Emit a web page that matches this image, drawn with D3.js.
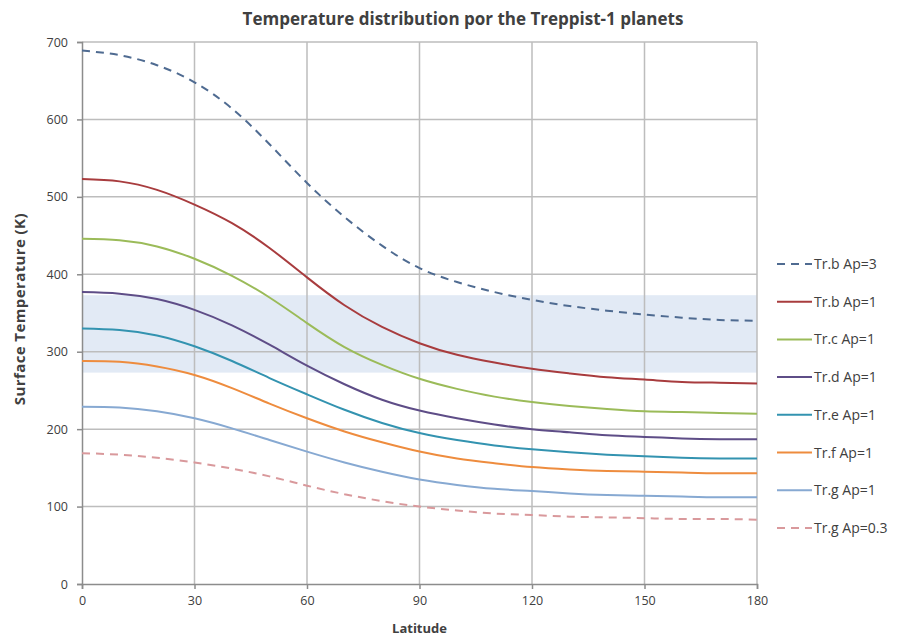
<!DOCTYPE html>
<html>
<head>
<meta charset="utf-8">
<script src="https://cdn.jsdelivr.net/npm/d3@7"></script>
<style>
  body { margin: 0; background: #fff; }
  text { font-family: "Open Sans", "Liberation Sans", sans-serif; fill: #404040; }
</style>
</head>
<body>
<div id="chart"></div>
<script>
// latitude steps (deg)
var latitudes = [0, 10, 20, 30, 40, 50, 60, 70, 80, 90, 100, 110, 120, 130, 140, 150, 160, 170, 180];

// surface temperature (K) per planet
var trB3  = [689, 683, 670, 648, 614, 568, 518, 474, 437, 408, 390, 377, 367, 359, 353, 348, 344, 341, 340];
var trB1  = [523, 520, 509, 490, 466, 434, 396, 360, 332, 311, 296, 286, 278, 272, 267, 264, 261, 260, 259];
var trC1  = [446, 444, 436, 420, 398, 370, 337, 306, 283, 265, 252, 242, 235, 230, 226, 223, 222, 221, 220];
var trD1  = [377, 375, 368, 354, 334, 309, 282, 258, 238, 224, 214, 206, 200, 196, 192, 190, 188, 187, 187];
var trE1  = [330, 328, 321, 307, 288, 266, 245, 225, 208, 195, 186, 179, 174, 170, 167, 165, 163, 162, 162];
var trF1  = [288, 287, 281, 270, 253, 233, 214, 197, 183, 171, 162, 156, 151, 148, 146, 145, 144, 143, 143];
var trG1  = [229, 228, 223, 214, 201, 186, 171, 157, 145, 135, 128, 123, 120, 117, 115, 114, 113, 112, 112];
var trG03 = [169, 167, 163, 157, 149, 139, 127, 116, 107, 100, 95, 91, 89, 87, 86, 85, 84, 84, 83];

var seriesNames = ["Tr.b Ap=3", "Tr.b Ap=1", "Tr.c Ap=1", "Tr.d Ap=1", "Tr.e Ap=1", "Tr.f Ap=1", "Tr.g Ap=1", "Tr.g Ap=0.3"];
var seriesValues = [trB3, trB1, trC1, trD1, trE1, trF1, trG1, trG03];
var seriesColors = ["#4f6b91", "#a83c3e", "#9bbb59", "#5e4d87", "#3393b0", "#ee8c3e", "#87a9d2", "#d9999c"];
var seriesDashed = [true, false, false, false, false, false, false, true];

// liquid water band (K)
var waterBand = [273, 373];

var xTicks = [0, 30, 60, 90, 120, 150, 180];
var yTicks = [0, 100, 200, 300, 400, 500, 600, 700];

var W = 903, H = 641;
var margin = {top: 42, right: 146, bottom: 57, left: 82},
    width = W - margin.left - margin.right,
    height = H - margin.top - margin.bottom;

var x = d3.scaleLinear().domain([0, 180]).range([0, width]);
var y = d3.scaleLinear().domain([0, 700]).range([height, 0]);

var svg = d3.select("#chart").append("svg")
    .attr("width", W)
    .attr("height", H);

var g = svg.append("g")
    .attr("transform", "translate(" + margin.left + "," + margin.top + ")");

// shaded band
g.append("rect")
    .attr("x", x(0))
    .attr("width", x(180) - x(0))
    .attr("y", y(waterBand[1]))
    .attr("height", y(waterBand[0]) - y(waterBand[1]))
    .attr("fill", "#e2eaf5");

// grid
g.selectAll(".hgrid")
    .data(yTicks.filter(function(d) { return d > 0; }))
    .enter().append("line")
    .attr("x1", 0).attr("x2", width)
    .attr("y1", function(d) { return y(d); })
    .attr("y2", function(d) { return y(d); })
    .attr("stroke", "#bdbdbd").attr("stroke-width", 1.5);

g.selectAll(".vgrid")
    .data(xTicks.filter(function(d) { return d > 0; }))
    .enter().append("line")
    .attr("y1", 0).attr("y2", height)
    .attr("x1", function(d) { return x(d); })
    .attr("x2", function(d) { return x(d); })
    .attr("stroke", "#bdbdbd").attr("stroke-width", 1.5);

// axes
var xAxis = g.append("g")
    .attr("transform", "translate(0," + height + ")")
    .call(d3.axisBottom(x).tickValues(xTicks).tickSize(5).tickPadding(7));
var yAxis = g.append("g")
    .call(d3.axisLeft(y).tickValues(yTicks).tickSize(5).tickPadding(9));

[xAxis, yAxis].forEach(function(a) {
    a.select(".domain").attr("stroke", "#8c8c8c").attr("stroke-width", 1.5);
    a.selectAll(".tick line").attr("stroke", "#8c8c8c").attr("stroke-width", 1.5);
    a.selectAll(".tick text")
        .style("font-family", "'Open Sans', sans-serif")
        .style("font-size", "12.5px")
        .attr("fill", "#404040");
});

// lines
var line = d3.line()
    .x(function(d, i) { return x(latitudes[i]); })
    .y(function(d) { return y(d); })
    .curve(d3.curveNatural);

seriesValues.forEach(function(vals, k) {
    g.append("path")
        .datum(vals)
        .attr("fill", "none")
        .attr("stroke", seriesColors[k])
        .attr("stroke-width", 2)
        .attr("stroke-dasharray", seriesDashed[k] ? "8,6" : null)
        .attr("d", line);
});

// title
svg.append("text")
    .attr("x", 463).attr("y", 25)
    .attr("text-anchor", "middle")
    .style("font-size", "17px").style("font-weight", "bold")
    .attr("fill", "#1a1a1a")
    .text("Temperature distribution por the Treppist-1 planets");

// axis titles
svg.append("text")
    .attr("x", margin.left + x(90)).attr("y", 633)
    .attr("text-anchor", "middle")
    .style("font-size", "13px").style("font-weight", "bold")
    .attr("fill", "#333")
    .text("Latitude");

svg.append("text")
    .attr("transform", "translate(25," + (margin.top + y(355)) + ") rotate(-90)")
    .attr("text-anchor", "middle")
    .style("font-size", "15px").style("font-weight", "bold")
    .style("letter-spacing", "0.4px")
    .attr("fill", "#333")
    .text("Surface Temperature (K)");

// legend
var legend = svg.append("g").attr("transform", "translate(777,264)");
seriesNames.forEach(function(name, k) {
    var row = legend.append("g").attr("transform", "translate(0," + (k * 37.7) + ")");
    row.append("line")
        .attr("x1", 0).attr("x2", 35)
        .attr("y1", 0).attr("y2", 0)
        .attr("stroke", seriesColors[k])
        .attr("stroke-width", 2)
        .attr("stroke-dasharray", seriesDashed[k] ? "8,6" : null);
    row.append("text")
        .attr("x", 37).attr("y", 5)
        .style("font-size", "14px")
        .attr("fill", "#404040")
        .text(name);
});
</script>
</body>
</html>
